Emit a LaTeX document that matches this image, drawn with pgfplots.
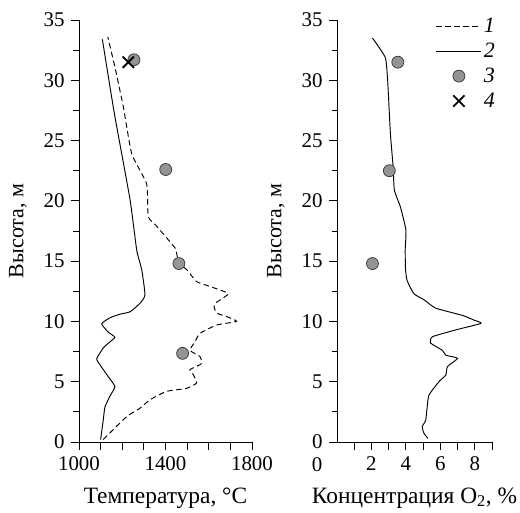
\documentclass[border=0pt]{standalone}
\usepackage{pgfplots}
\pgfplotsset{compat=1.18}
\usepackage{fontspec}
\setmainfont{Liberation Serif}
\pgfplotsset{
  lineleg/.style={legend image code/.code={\draw[##1] (0bp,0bp) -- (45bp,0bp);}},
  markleg/.style={legend image code/.code={\draw[##1] plot coordinates {(22.5bp,0bp)};}},
}
\begin{document}
\begin{tikzpicture}
\useasboundingbox (0bp,0bp) rectangle (520bp,513bp);
\pgfplotsset{
  myax/.style={
    scale only axis, anchor=south west,
    axis lines=left, axis line style={-, line width=0.9pt},
    tick align=outside, tick style={line width=0.8pt, black},
    major tick length=8bp, minor tick length=5.5bp,
    ymin=0, ymax=35, ytick={0,5,...,35}, minor y tick num=1,
    font=\fontsize{21}{25}\selectfont,
    /pgf/number format/assume math mode=true,
    yticklabel style={xshift=-3bp},
    xticklabel style={yshift=-3bp},
    ylabel={Высота, м},
    every axis y label/.style={at={(rel axis cs:0,0.5)}, rotate=90, anchor=center, yshift=61bp, font=\fontsize{22}{26}\selectfont},
    every axis x label/.style={at={(rel axis cs:0.5,0)}, anchor=base, yshift=-61bp, font=\fontsize{23.5}{27}\selectfont},
    clip=false,
  },
}
\begin{axis}[myax, at={(79bp,71bp)}, width=173bp, height=422bp,
  xmin=1000, xmax=1800, xtick={1000,1100,...,1800},
  xticklabels={1000,,,,1400,,,,1800},
  xlabel={Температура, °C},
  /pgf/number format/1000 sep={}]
\addplot[black, line width=0.95pt, dash pattern=on 5.5bp off 3.5bp, smooth, tension=0.3] coordinates {
(1112,0.2) (1220,2.1) (1282,2.8) (1328,3.5) (1405,4.2) (1498,4.45) (1544,4.9)
(1528,5.6) (1513,6.0) (1567,6.5) (1559,7.1) (1513,7.6) (1536,8.3) (1559,9.0)
(1636,9.7) (1729,10.0) (1683,10.4) (1636,10.7) (1625,11.2) (1629,11.5) (1690,12.3)
(1606,12.9) (1544,13.3) (1498,14.3) (1462,14.8) (1452,15.6) (1444,16.1)
(1359,17.9) (1320,18.7) (1313,21.4) (1244,23.9) (1205,27.8) (1166,31.1) (1133,33.6)};
\addplot[black, line width=0.95pt, smooth, tension=0.3] coordinates {
(1100,0.2) (1112,1.8) (1120,2.9) (1143,3.8) (1166,4.6) (1136,5.4) (1097,6.4)
(1082,6.9) (1112,7.8) (1143,8.3) (1166,8.7) (1136,9.1) (1105,9.8) (1143,10.3)
(1190,10.6) (1236,10.8) (1282,11.5) (1305,12.2) (1290,14.3) (1267,15.9)
(1236,20.1) (1163,27.3) (1108,33.4)};
\addplot[only marks, mark=*, mark size=6bp, mark options={fill=black!42, draw=black!80, line width=0.7pt}] coordinates {
(1254,31.7) (1401,22.6) (1462,14.8) (1479,7.35)};
\addplot[only marks, mark=x, mark size=8bp, mark options={line width=1.8pt, black}] coordinates {
(1228,31.5)};
\end{axis}
\begin{axis}[myax, at={(337bp,71bp)}, width=155bp, height=422bp,
  xmin=0, xmax=9, xtick={1,...,9}, xticklabels={,2,,4,,6,,8,},
  xlabel={Концентрация O\textsubscript{2}, \%},
  legend style={draw=none, fill=none, at={(rel axis cs:1,1)}, anchor=north east,
    xshift=8bp, yshift=6bp, row sep=5bp, font=\fontsize{22}{24}\selectfont\itshape},
  legend cell align=left]
\node[anchor=north, inner sep=0pt] at (rel axis cs:0,0) [xshift=-20bp, yshift=-15bp] {0};
\addlegendimage{black, line width=0.95pt, dash pattern=on 5.5bp off 3.5bp, lineleg}
\addlegendentry{1}
\addplot[black, line width=0.95pt, lineleg, smooth, tension=0.3] coordinates {
(5.28,0.3) (5.05,0.72) (4.95,1.27) (5.15,1.8) (5.24,2.93) (5.34,3.9) (5.92,5.0)
(6.32,5.56) (6.41,6.25) (7.0,6.94) (6.32,7.2) (6.12,7.6) (5.44,8.2) (5.54,8.73)
(6.9,9.3) (8.36,9.84) (7.97,10.1) (7.29,10.5) (5.73,11.1) (5.05,11.8) (4.46,12.3)
(4.07,13.4) (3.98,14.3) (3.96,15.9) (4.0,17.6) (3.68,19.5) (3.33,20.9) (3.26,22.8)
(3.1,25.6) (2.94,30.0) (2.8,31.9) (2.06,33.5)};
\addlegendentry{2}
\addplot[only marks, mark=*, mark size=6bp, mark options={fill=black!42, draw=black!80, line width=0.7pt}, markleg] coordinates {
(3.53,31.5) (3.04,22.5) (2.06,14.8)};
\addlegendentry{3}
\addlegendimage{only marks, mark=x, mark size=8bp, mark options={line width=1.8pt, black}, markleg}
\addlegendentry{4}
\end{axis}
\end{tikzpicture}
\end{document}
